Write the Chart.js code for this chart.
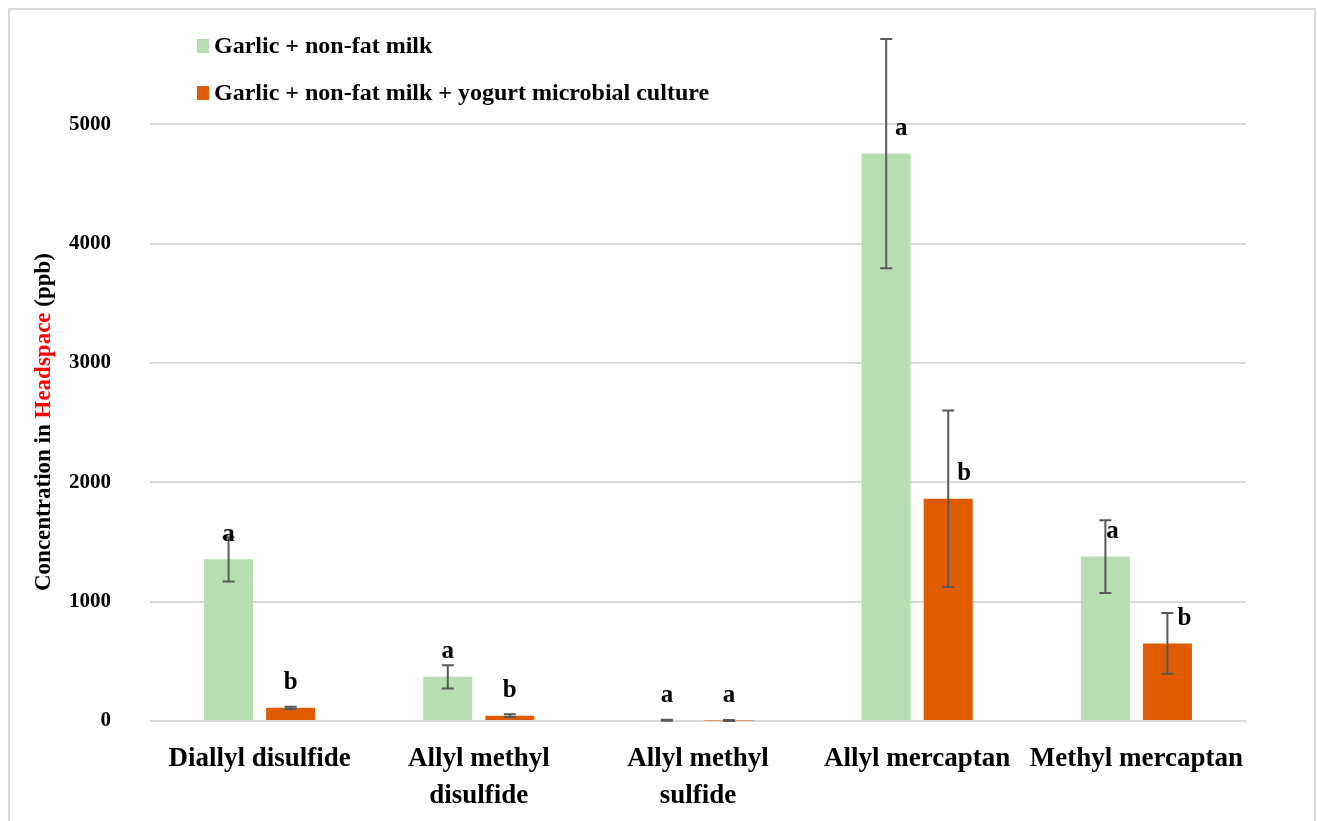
<!DOCTYPE html>
<html>
<head>
<meta charset="utf-8">
<title>Sulfur volatiles in headspace</title>
<script src="https://cdn.jsdelivr.net/npm/chart.js@4/dist/chart.umd.min.js"></script>
<style>
  html, body { margin: 0; padding: 0; background: #fff; }
  #wrap { width: 1317px; height: 821px; }
</style>
</head>
<body>
<div id="wrap"><canvas id="myChart" width="1317" height="821"></canvas></div>
<script>
"use strict";

const compounds = [
  ["Diallyl disulfide"],
  ["Allyl methyl", "disulfide"],
  ["Allyl methyl", "sulfide"],
  ["Allyl mercaptan"],
  ["Methyl mercaptan"]
];
const seriesNames = [
  "Garlic + non-fat milk",
  "Garlic + non-fat milk + yogurt microbial culture"
];
const milkMean = [1355, 370, 6, 4755, 1378];
const milkSd = [185, 98, 4, 960, 305];
const cultureMean = [110, 45, 5, 1862, 650];
const cultureSd = [10, 12, 4, 740, 255];
const milkLetters = ["a", "a", "a", "a", "a"];
const cultureLetters = ["b", "b", "a", "b", "b"];
const yTicks = [0, 1000, 2000, 3000, 4000, 5000];

const GREEN = "#b9ddb3";
const ORANGE = "#e05a00";
const SERIF = "'Liberation Serif', 'DejaVu Serif', serif";

// letters sit above the bar top, some nudged right of the whisker
const letterShift = [[0, 0, 0, 15, 7], [0, 0, 0, 16, 17]];

const sdSets = [milkSd, cultureSd];
const letterSets = [milkLetters, cultureLetters];

const framePlugin = {
  id: "frame",
  beforeDraw(chart) {
    const ctx = chart.ctx;
    ctx.save();
    ctx.fillStyle = "#fff";
    ctx.fillRect(0, 0, chart.width, chart.height);
    ctx.strokeStyle = "#d9d9d9";
    ctx.lineWidth = 2;
    ctx.beginPath();
    ctx.moveTo(9, chart.height);
    ctx.lineTo(9, 9);
    ctx.lineTo(chart.width - 2, 9);
    ctx.lineTo(chart.width - 2, chart.height);
    ctx.stroke();
    ctx.restore();
  }
};

const errorBarPlugin = {
  id: "errorBars",
  afterDatasetsDraw(chart) {
    const ctx = chart.ctx;
    const y = chart.scales.y;
    ctx.save();
    ctx.strokeStyle = "#595959";
    ctx.lineWidth = 2;
    chart.data.datasets.forEach((ds, di) => {
      chart.getDatasetMeta(di).data.forEach((bar, i) => {
        const v = ds.data[i];
        const sd = sdSets[di][i];
        const top = y.getPixelForValue(v + sd);
        const bot = y.getPixelForValue(Math.max(0, v - sd));
        ctx.beginPath();
        ctx.moveTo(bar.x, top);
        ctx.lineTo(bar.x, bot);
        ctx.moveTo(bar.x - 6, top);
        ctx.lineTo(bar.x + 6, top);
        ctx.moveTo(bar.x - 6, bot);
        ctx.lineTo(bar.x + 6, bot);
        ctx.stroke();
      });
    });
    ctx.restore();
  }
};

const letterPlugin = {
  id: "letters",
  afterDraw(chart) {
    const ctx = chart.ctx;
    const y = chart.scales.y;
    ctx.save();
    ctx.fillStyle = "#000";
    ctx.font = "bold 25px " + SERIF;
    ctx.textAlign = "center";
    ctx.textBaseline = "middle";
    chart.data.datasets.forEach((ds, di) => {
      chart.getDatasetMeta(di).data.forEach((bar, i) => {
        const py = y.getPixelForValue(ds.data[i]) - 25;
        ctx.fillText(letterSets[di][i], bar.x + letterShift[di][i], py);
      });
    });
    ctx.restore();
  }
};

const legendPlugin = {
  id: "boxLegend",
  afterDraw(chart) {
    const ctx = chart.ctx;
    ctx.save();
    ctx.font = "bold 24px " + SERIF;
    ctx.textBaseline = "middle";
    ctx.fillStyle = GREEN;
    ctx.fillRect(197, 39, 12, 14);
    ctx.fillStyle = ORANGE;
    ctx.fillRect(197, 86, 12, 14);
    ctx.fillStyle = "#000";
    ctx.fillText(seriesNames[0], 214, 47);
    ctx.fillText(seriesNames[1], 214, 94);
    ctx.restore();
  }
};

// y axis title with the red word
const yTitlePlugin = {
  id: "yTitle",
  afterDraw(chart) {
    const ctx = chart.ctx;
    const parts = [
      ["Concentration in ", "#000"],
      ["Headspace", "#ff0000"],
      [" (ppb)", "#000"]
    ];
    ctx.save();
    ctx.font = "bold 23px " + SERIF;
    ctx.textBaseline = "middle";
    const total = parts.reduce((s, p) => s + ctx.measureText(p[0]).width, 0);
    ctx.translate(44, 422);
    ctx.rotate(-Math.PI / 2);
    let x = -total / 2;
    parts.forEach(p => {
      ctx.fillStyle = p[1];
      ctx.fillText(p[0], x, 0);
      x += ctx.measureText(p[0]).width;
    });
    ctx.restore();
  }
};

const ctx = document.getElementById("myChart");
const myChart = new Chart(ctx, {
  type: "bar",
  data: {
    labels: compounds,
    datasets: [{
      label: seriesNames[0],
      data: milkMean,
      backgroundColor: GREEN,
      categoryPercentage: 0.566,
      barPercentage: 0.79
    }, {
      label: seriesNames[1],
      data: cultureMean,
      backgroundColor: ORANGE,
      categoryPercentage: 0.566,
      barPercentage: 0.79
    }]
  },
  options: {
    responsive: false,
    animation: false,
    events: [],
    layout: { autoPadding: false, padding: { top: 5, right: 71, left: 0, bottom: 0 } },
    plugins: {
      legend: { display: false },
      tooltip: { enabled: false }
    },
    scales: {
      x: {
        grid: { display: false },
        border: { display: false },
        ticks: {
          color: "#000",
          padding: 12,
          autoSkip: false,
          maxRotation: 0,
          minRotation: 0,
          font: { family: SERIF, size: 27, weight: "bold", lineHeight: 1.35 }
        },
        afterFit(scale) { scale.height = 100; }
      },
      y: {
        min: 0,
        max: 6000,
        border: { display: false },
        afterBuildTicks(scale) {
          scale.ticks = yTicks.concat([6000]).map(v => ({ value: v }));
        },
        grid: {
          drawTicks: false,
          lineWidth: 2,
          color: c => (c.tick && c.tick.value > 5000 ? "rgba(0,0,0,0)" : "#d9d9d9")
        },
        ticks: {
          color: "#000",
          padding: 39,
          font: { family: SERIF, size: 21, weight: "bold" },
          callback: v => (yTicks.includes(v) ? String(v) : "")
        },
        afterFit(scale) {
          scale.width = 150;
          // the big label gap should not push the plot top down
          scale.paddingTop = 0;
          scale.paddingBottom = 0;
        }
      }
    }
  },
  plugins: [framePlugin, errorBarPlugin, letterPlugin, legendPlugin, yTitlePlugin]
});
</script>
</body>
</html>
